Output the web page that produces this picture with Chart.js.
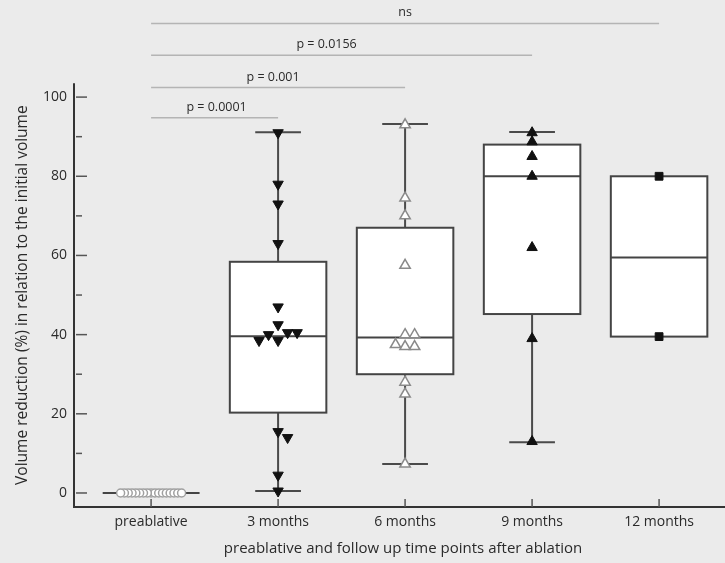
<!DOCTYPE html>
<html><head><meta charset="utf-8">
<script src="https://cdn.jsdelivr.net/npm/chart.js@4.4.1/dist/chart.umd.min.js"></script>
<style>html,body{margin:0;padding:0;background:#ebebeb;}canvas{display:block;}</style>
</head><body>
<canvas id="c" width="725" height="563" style="width:725px;height:563px"></canvas>
<script>
// ---- data ----
const categories = ['preablative', '3 months', '6 months', '9 months', '12 months'];
const preablative = [0, 0, 0, 0, 0, 0, 0, 0, 0, 0, 0, 0, 0, 0, 0, 0, 0];
const months3 = [91, 78, 73, 63, 47, 42.5, 40.5, 40, 40.5, 38.5, 38.5, 15.5, 14, 4.5, 0.5];
const months6 = [93, 74.5, 70, 57.5, 40, 40, 37.5, 37, 37, 28, 25, 7.3];
const months9 = [91, 88.7, 85, 80, 62, 39, 13];
const months12 = [80, 39.5];
const boxQ1 = [0, 20.3, 30, 45.2, 39.5];
const boxMedian = [0, 39.6, 39.3, 80, 59.5];
const boxQ3 = [0, 58.4, 67, 88, 80];
const whiskerLow = [null, 0.5, 7.3, 12.8, null];
const whiskerHigh = [null, 91.1, 93.2, 91.2, null];
const yTicks = [0, 10, 20, 30, 40, 50, 60, 70, 80, 90, 100];
const yTickLabels = [0, 20, 40, 60, 80, 100];
const sigTargets = [1, 2, 3, 4];
const sigLevels = [94.8, 102.4, 110.6, 118.6];
const sigLabels = ['p = 0.0001', 'p = 0.001', 'p = 0.0156', 'ns'];
const xTitle = 'preablative and follow up time points after ablation';
const yTitle = 'Volume reduction (%) in relation to the initial volume';

const FONT = '"Open Sans", "Noto Sans", sans-serif';
const TXT = '#2a2a2a';

// deterministic beeswarm spread for overlapping points
function swarm(values, step, minDy) {
  const placed = [];
  return values.map(v => {
    for (let k = 0; k < 40; k++) {
      const off = k === 0 ? 0 : (k % 2 ? 1 : -1) * Math.ceil(k / 2) * step;
      if (!placed.some(p => Math.abs(p.y - v) < minDy && Math.abs(p.x - off) < step * 0.9)) {
        placed.push({ x: off, y: v });
        return off;
      }
    }
    return 0;
  });
}
function pts(values, i, step, minDy) {
  const off = swarm(values, step, minDy);
  return values.map((v, k) => ({ x: i + off[k], y: v }));
}

const boxHalf = 0.38, capHalf = 0.18;
const axisTop = 103.5;

const drawPlugin = {
  id: 'boxes',
  beforeDatasetsDraw(chart) {
    const { ctx, scales: { x, y }, chartArea } = chart;
    ctx.save();
    // axes
    ctx.strokeStyle = '#333';
    ctx.lineWidth = 2;
    ctx.beginPath();
    ctx.moveTo(chartArea.left, y.getPixelForValue(axisTop));
    ctx.lineTo(chartArea.left, chartArea.bottom);
    ctx.lineTo(chart.width, chartArea.bottom);
    ctx.stroke();
    ctx.strokeStyle = '#555';
    ctx.lineWidth = 1.5;
    yTicks.forEach(v => {
      const py = y.getPixelForValue(v);
      const len = yTickLabels.includes(v) ? 13 : 8;
      ctx.beginPath();
      ctx.moveTo(chartArea.left + 2, py);
      ctx.lineTo(chartArea.left + len, py);
      ctx.stroke();
    });
    categories.forEach((c, i) => {
      const px = x.getPixelForValue(i);
      ctx.beginPath();
      ctx.moveTo(px, chartArea.bottom);
      ctx.lineTo(px, chartArea.bottom - 8);
      ctx.stroke();
    });
    // axis titles
    ctx.fillStyle = TXT;
    ctx.font = '15.5px ' + FONT;
    ctx.textAlign = 'center';
    ctx.textBaseline = 'middle';
    ctx.save();
    ctx.translate(23, (y.getPixelForValue(axisTop) + chartArea.bottom) / 2);
    ctx.rotate(-Math.PI / 2);
    ctx.fillText(yTitle, 0, 0);
    ctx.restore();
    ctx.font = '15px ' + FONT;
    ctx.fillText(xTitle, x.getPixelForValue(2) - 2, chartArea.bottom + 42);
    // significance brackets
    ctx.strokeStyle = '#b4b4b4';
    ctx.lineWidth = 1.5;
    ctx.font = '12.5px ' + FONT;
    ctx.textBaseline = 'alphabetic';
    const labelShift = [2, -5, -15, 0];
    sigTargets.forEach((t, k) => {
      const x0 = x.getPixelForValue(0), x1 = x.getPixelForValue(t);
      const py = y.getPixelForValue(sigLevels[k]);
      ctx.beginPath();
      ctx.moveTo(x0, py);
      ctx.lineTo(x1, py);
      ctx.stroke();
      ctx.fillText(sigLabels[k], (x0 + x1) / 2 + labelShift[k], py - 7);
    });
    // boxes
    categories.forEach((c, i) => {
      const xc = x.getPixelForValue(i);
      const xl = x.getPixelForValue(i - boxHalf), xr = x.getPixelForValue(i + boxHalf);
      const cl = x.getPixelForValue(i - capHalf), cr = x.getPixelForValue(i + capHalf);
      ctx.strokeStyle = '#4a4a4a';
      ctx.lineWidth = 2;
      if (whiskerHigh[i] != null) {
        const yh = y.getPixelForValue(whiskerHigh[i]), yl = y.getPixelForValue(whiskerLow[i]);
        ctx.beginPath();
        ctx.moveTo(xc, y.getPixelForValue(boxQ3[i])); ctx.lineTo(xc, yh);
        ctx.moveTo(cl, yh); ctx.lineTo(cr, yh);
        ctx.moveTo(xc, y.getPixelForValue(boxQ1[i])); ctx.lineTo(xc, yl);
        ctx.moveTo(cl, yl); ctx.lineTo(cr, yl);
        ctx.stroke();
      }
      const yt = y.getPixelForValue(boxQ3[i]), yb = y.getPixelForValue(boxQ1[i]);
      ctx.fillStyle = '#fff';
      ctx.fillRect(xl, yt, xr - xl, yb - yt);
      ctx.strokeStyle = '#444';
      ctx.strokeRect(xl, yt, xr - xl, yb - yt);
      const ym = y.getPixelForValue(boxMedian[i]);
      ctx.beginPath();
      ctx.moveTo(xl, ym); ctx.lineTo(xr, ym);
      ctx.stroke();
    });
    ctx.restore();
  }
};

new Chart(document.getElementById('c'), {
  type: 'scatter',
  data: {
    datasets: [
      { data: pts(preablative, 0, 0.03, 2.6), pointStyle: 'circle', pointRadius: 4,
        backgroundColor: '#fff', borderColor: '#a0a0a0', borderWidth: 1.5 },
      { data: pts(months3, 1, 0.075, 2.6), pointStyle: 'triangle', rotation: 180, pointRadius: 6,
        backgroundColor: '#111', borderColor: '#111', borderWidth: 1 },
      { data: pts(months6, 2, 0.075, 2.6), pointStyle: 'triangle', pointRadius: 6,
        backgroundColor: '#fff', borderColor: '#8a8a8a', borderWidth: 1.5 },
      { data: pts(months9, 3, 0.075, 2.2), pointStyle: 'triangle', pointRadius: 6,
        backgroundColor: '#111', borderColor: '#111', borderWidth: 1 },
      { data: pts(months12, 4, 0.075, 2.6), pointStyle: 'rect', pointRadius: 5.5,
        backgroundColor: '#111', borderColor: '#111', borderWidth: 1 }
    ]
  },
  options: {
    responsive: false,
    animation: false,
    devicePixelRatio: 1,
    layout: { padding: { top: 10, right: 3, left: 0, bottom: 0 } },
    plugins: { legend: { display: false }, tooltip: { enabled: false } },
    scales: {
      x: {
        type: 'linear', min: -0.607, max: 4.46,
        grid: { display: false, drawTicks: false },
        border: { display: false },
        afterBuildTicks: s => { s.ticks = categories.map((c, i) => ({ value: i })); },
        ticks: { callback: v => categories[v], font: { family: FONT, size: 14 }, color: TXT,
                 padding: 7, maxRotation: 0, autoSkip: false },
        title: { display: false },
        afterFit: s => { s.height = 56; s.paddingLeft = 0; s.paddingRight = 0; }
      },
      y: {
        type: 'linear', min: -3.54, max: 122,
        grid: { display: false, drawTicks: false },
        border: { display: false },
        afterBuildTicks: s => { s.ticks = yTicks.map(v => ({ value: v })); },
        ticks: { callback: v => yTickLabels.includes(v) ? String(v) : '', font: { family: FONT, size: 14 },
                 color: TXT, padding: 7, autoSkip: false },
        title: { display: false },
        afterFit: s => { s.width = 74; s.paddingTop = 0; s.paddingBottom = 0; }
      }
    }
  },
  plugins: [drawPlugin]
});
</script>
</body></html>
